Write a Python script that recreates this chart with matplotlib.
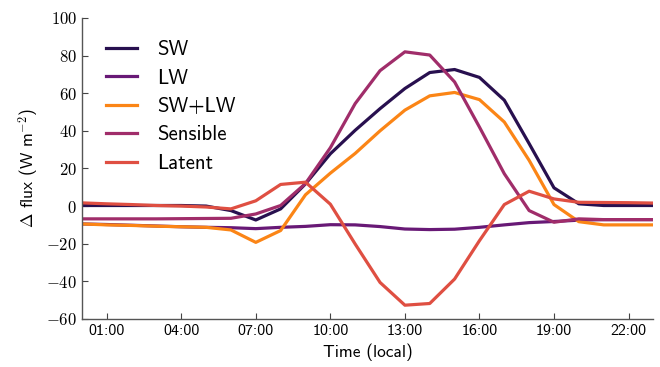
import matplotlib
matplotlib.use("Agg")
import matplotlib.pyplot as plt
from matplotlib.ticker import FuncFormatter

hours = list(range(24))
sw = [0.3, 0.3, 0.3, 0.3, 0.3, 0.0, -2.4, -7.4, -1.5, 11.8, 27.8, 40.3, 51.8, 62.5, 71.0, 72.6, 68.4, 56.3, 33.2, 9.7, 1.2, 0.3, 0.3, 0.3]
lw = [-9.5, -9.8, -10.2, -10.6, -11.0, -11.3, -11.5, -12.0, -11.3, -10.8, -9.9, -10.0, -10.9, -12.2, -12.5, -12.3, -11.3, -10.0, -8.8, -8.2, -7.5, -7.2, -7.2, -7.2]
swlw = [-9.5, -10.0, -10.3, -10.7, -11.0, -11.3, -12.7, -19.3, -13.0, 6.0, 17.5, 28.0, 40.0, 51.0, 58.6, 60.4, 56.6, 44.7, 24.3, 0.8, -8.3, -10.0, -10.0, -10.0]
sensible = [-6.8, -6.8, -6.8, -6.8, -6.7, -6.6, -6.5, -4.2, 0.3, 12.0, 31.0, 54.5, 72.0, 82.0, 80.3, 66.0, 42.0, 17.2, -2.4, -8.6, -6.8, -7.2, -7.2, -7.2]
latent = [1.7, 1.2, 0.8, 0.3, 0.0, -0.5, -1.5, 2.8, 11.5, 12.7, 1.0, -20.2, -40.6, -52.7, -51.8, -38.8, -18.4, 0.8, 7.9, 3.8, 2.0, 1.9, 1.8, 1.6]

series = [("SW", sw, "#28104f"), ("LW", lw, "#681976"), ("SW+LW", swlw, "#fb8516"),
          ("Sensible", sensible, "#a02d6a"), ("Latent", latent, "#df4f42")]

xticks = [1, 4, 7, 10, 13, 16, 19, 22]
xticklabels = ["01:00", "04:00", "07:00", "10:00", "13:00", "16:00", "19:00", "22:00"]
yticks = [-60, -40, -20, 0, 20, 40, 60, 80, 100]

plt.rcParams["font.family"] = ["cmss10", "DejaVu Sans"]
plt.rcParams["mathtext.fontset"] = "cm"
plt.rcParams["axes.unicode_minus"] = False

fig = plt.figure(figsize=(6.6, 3.67), dpi=100)
ax = fig.add_axes([0.124, 0.131, 0.866, 0.82])

for name, vals, col in series:
    ax.plot(hours, vals, color=col, lw=2.3, label=name)

ax.set_xlim(0, 23)
ax.set_ylim(-60, 100)
ax.set_xticks(xticks)
ax.set_xticklabels(xticklabels, fontsize=11.5)
ax.set_yticks(yticks)
ax.yaxis.set_major_formatter(FuncFormatter(lambda v, p: r"$%d$" % v))
ax.tick_params(axis="y", labelsize=12)
ax.tick_params(direction="in", length=4, width=0.8, color="#444444")
for s in ["top", "right"]:
    ax.spines[s].set_visible(False)
for s in ["left", "bottom"]:
    ax.spines[s].set_color("#555555")
    ax.spines[s].set_linewidth(1.0)

ax.set_xlabel("Time (local)", fontsize=12.5)
ax.set_ylabel(r"$\mathsf{\Delta}$ flux (W m$^{\mathsf{-2}}$)", fontsize=12.5)

ax.legend(loc="upper left", frameon=False, fontsize=15, handlelength=1.5,
          handletextpad=1.0, labelspacing=0.45, borderaxespad=0.6,
          bbox_to_anchor=(0.005, 0.995))

fig.savefig("out.png", dpi=100)
